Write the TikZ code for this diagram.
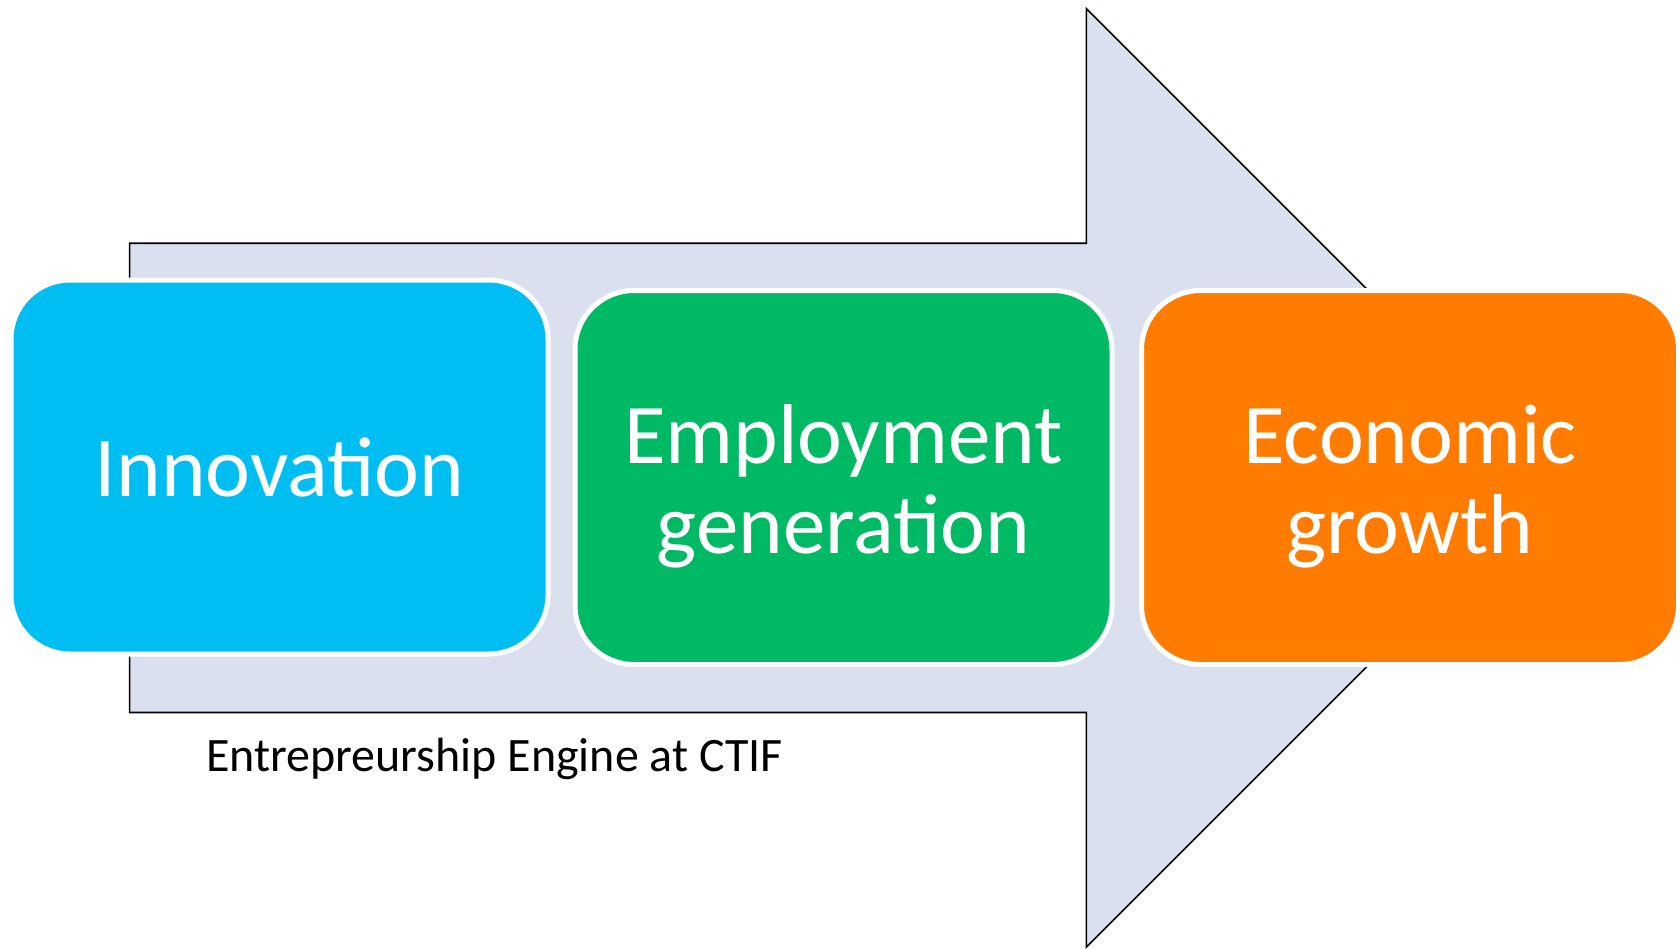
\documentclass[tikz,border=0pt]{standalone}
\usepackage{fontspec}
\setmainfont{Carlito}
\definecolor{arrowfill}{HTML}{DAE0EE}
\definecolor{innoblue}{HTML}{00BEF2}
\definecolor{empgreen}{HTML}{00B964}
\definecolor{ecoorange}{HTML}{FF7C00}
\begin{document}
\begin{tikzpicture}[x=0.5pt,y=-0.5pt,
  stagebox/.style={draw=white, line width=2.5pt, rounded corners=29.5pt,
    minimum width=268.5pt, minimum height=187pt, inner sep=0pt},
  boxtext/.style={text=white, font=\fontsize{42.5}{45}\selectfont, align=center, inner sep=0pt},
  captext/.style={text=black, font=\fontsize{24}{28}\selectfont, inner sep=0pt}]
\useasboundingbox (0,0) rectangle (1680,948);
\fill[white] (0,0) rectangle (1680,948);
% big arrow
\draw[fill=arrowfill, draw=black, line width=0.8pt, line join=miter]
  (129.6,243.2) -- (1086.4,243.2) -- (1086.4,8.6) -- (1555.7,477.9)
  -- (1086.4,947.1) -- (1086.4,712.5) -- (129.6,712.5) -- cycle;
% boxes
\node[stagebox, fill=innoblue] (inno) at (279.5,467) {};
\node[stagebox, fill=empgreen] (emp) at (843.5,477.5) {};
\node[stagebox, fill=ecoorange] (eco) at (1410,477.5) {};
% texts
\node[boxtext, anchor=base] (innot) at (279.5,496) {Innovation};
\node[boxtext, anchor=base] (empt) at (843.5,553) {Employment\\generation};
\node[boxtext, anchor=base] (ecot) at (1410,553) {Economic\\growth};
\node[captext, anchor=base west] (cap) at (205.7,771) {Entrepreurship Engine at CTIF};
\end{tikzpicture}
\end{document}
